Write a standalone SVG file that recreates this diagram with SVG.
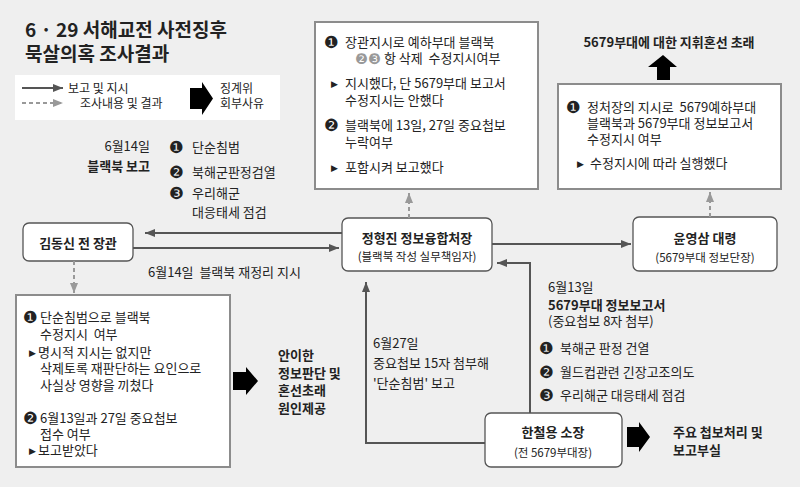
<svg xmlns="http://www.w3.org/2000/svg" width="800" height="487" viewBox="0 0 800 487">
<style>
text{font-family:"Noto Sans CJK KR","Noto Sans",sans-serif;fill:#222;font-size:13px;white-space:pre}
.b{font-weight:bold}
.t{font-size:19px;font-weight:bold}
.s{font-size:11.5px}
.lg{font-size:12px}
.num{font-family:"DejaVu Sans","Noto Sans CJK KR",sans-serif;font-size:16.5px}
.gnum{font-family:"DejaVu Sans","Noto Sans CJK KR",sans-serif;font-size:14.5px;fill:#999}
.tri{font-family:"DejaVu Sans",sans-serif;font-size:9px}
.node{fill:#fff;stroke:#555;stroke-width:1.3}
.panel{fill:#fff;stroke:#8c8c8c;stroke-width:2}
.con{fill:none;stroke:#555;stroke-width:2}
.dash{fill:none;stroke:#999;stroke-width:2;stroke-dasharray:4 3}
.blk{fill:#000}
</style>
<defs>
<marker id="arr" viewBox="0 0 10 8" refX="10" refY="4" markerWidth="10" markerHeight="8" markerUnits="userSpaceOnUse" orient="auto"><path d="M0,0 L10,4 L0,8 z" fill="#555"/></marker>
<marker id="arrg" viewBox="0 0 10 8" refX="10" refY="4" markerWidth="10" markerHeight="8" markerUnits="userSpaceOnUse" orient="auto"><path d="M0,0 L10,4 L0,8 z" fill="#999"/></marker>
</defs>
<rect x="0" y="0" width="800" height="487" fill="#efefef"/>

<g id="title">
<text class="t" x="25" y="37">6 · 29 서해교전 사전징후</text>
<text class="t" x="25" y="61">묵살의혹 조사결과</text>
</g>

<g id="legend">
<rect x="15" y="75" width="265" height="45" fill="#fff"/>
<line x1="22" y1="88" x2="63" y2="88" class="con" marker-end="url(#arr)"/>
<text class="lg" x="68" y="93">보고 및 지시</text>
<line x1="22" y1="103" x2="63" y2="103" class="dash" marker-end="url(#arrg)"/>
<text class="lg" x="80" y="108">조사내용 및 결과</text>
<polygon class="blk" points="190,88 202,88 202,82 213,98.5 202,115 202,109 190,109"/>
<text class="lg" x="220" y="93">징계위</text>
<text class="lg" x="220" y="108">회부사유</text>
</g>

<g id="report-label">
<text x="150" y="151" text-anchor="end">6월14일</text>
<text class="b" x="150" y="171" text-anchor="end">블랙북 보고</text>
<text class="num" x="169" y="153">❶</text>
<text x="192" y="152">단순침범</text>
<text class="num" x="169" y="178">❷</text>
<text x="192" y="177">북해군판정검열</text>
<text class="num" x="169" y="199">❸</text>
<text x="192" y="198">우리해군</text>
<text x="192" y="217">대응태세 점검</text>
</g>

<g id="panel-top">
<rect class="panel" x="315" y="22" width="223" height="167"/>
<text class="num" x="324" y="48">❶</text>
<text x="345" y="47">장관지시로 예하부대 블랙북</text>
<text class="gnum" x="355" y="64">❷</text>
<text class="gnum" x="368" y="64">❸</text>
<text x="384" y="63">항 삭제  수정지시여부</text>
<text class="tri" x="331" y="87">▶</text>
<text x="345" y="88">지시했다, 단 5679부대 보고서</text>
<text x="345" y="105">수정지시는 안했다</text>
<text class="num" x="324" y="131">❷</text>
<text x="345" y="130">블랙북에 13일, 27일 중요첩보</text>
<text x="345" y="147">누락여부</text>
<text class="tri" x="331" y="171">▶</text>
<text x="345" y="172">포함시켜 보고했다</text>
</g>

<g id="panel-right">
<text class="b" x="669" y="47" text-anchor="middle">5679부대에 대한 지휘혼선 초래</text>
<polygon class="blk" points="663,55 677,67 670,67 670,80 657,80 657,67 648,67"/>
<rect class="panel" x="558" y="84" width="223" height="105"/>
<text class="num" x="566" y="113">❶</text>
<text x="587" y="112">정처장의 지시로  5679예하부대</text>
<text x="587" y="128">블랙북과 5679부대 정보보고서</text>
<text x="587" y="144">수정지시 여부</text>
<text class="tri" x="577" y="167">▶</text>
<text x="590" y="168">수정지시에 따라 실행했다</text>
</g>

<g id="node-kim">
<rect class="node" x="23" y="223" width="110" height="38" rx="6"/>
<text class="b" x="78" y="248" text-anchor="middle" font-size="13.5">김동신 전 장관</text>
</g>

<g id="node-jung">
<rect class="node" x="342" y="218" width="150" height="53" rx="6"/>
<text class="b" x="417" y="243" text-anchor="middle" font-size="13.5">정형진 정보융합처장</text>
<text class="s" x="417" y="261" text-anchor="middle">(블랙북 작성 실무책임자)</text>
</g>

<g id="node-yoon">
<rect class="node" x="633" y="217" width="144" height="54" rx="6"/>
<text class="b" x="705" y="243" text-anchor="middle" font-size="13.5">윤영삼 대령</text>
<text class="s" x="705" y="262" text-anchor="middle">(5679부대 정보단장)</text>
</g>

<g id="node-han">
<rect class="node" x="485" y="413" width="137" height="54" rx="6"/>
<text class="b" x="553" y="437" text-anchor="middle" font-size="13.5">한철용 소장</text>
<text class="s" x="553" y="457" text-anchor="middle">(전 5679부대장)</text>
</g>

<g id="panel-left">
<rect class="panel" x="16" y="295" width="214" height="172"/>
<text class="num" x="23" y="323">❶</text>
<text x="40" y="322">단순침범으로 블랙북</text>
<text x="40" y="339">수정지시  여부</text>
<text class="tri" x="29" y="356">▶</text>
<text x="38" y="357">명시적 지시는 없지만</text>
<text x="40" y="373">삭제토록 재판단하는 요인으로</text>
<text x="40" y="390">사실상 영향을 끼쳤다</text>
<text class="num" x="23" y="424">❷</text>
<text x="40" y="423">6월13일과 27일 중요첩보</text>
<text x="40" y="439">접수 여부</text>
<text class="tri" x="29" y="454">▶</text>
<text x="38" y="455">보고받았다</text>
</g>

<g id="result-left">
<polygon class="blk" points="233,372 246,372 246,367 258,381 246,395 246,390 233,390"/>
<text class="b" x="278" y="360">안이한</text>
<text class="b" x="278" y="378">정보판단 및</text>
<text class="b" x="278" y="395">혼선초래</text>
<text class="b" x="278" y="413">원인제공</text>
</g>

<g id="result-bottom">
<polygon class="blk" points="627,427 639,427 639,422 650,437 639,452 639,447 627,447"/>
<text class="b" x="673" y="437">주요 첩보처리 및</text>
<text class="b" x="673" y="455">보고부실</text>
</g>

<g id="connectors">
<line class="con" x1="342" y1="233" x2="145" y2="233" marker-end="url(#arr)"/>
<line class="con" x1="133" y1="248" x2="339" y2="248" marker-end="url(#arr)"/>
<text x="148" y="277">6월14일  블랙북 재정리 지시</text>
<line class="con" x1="492" y1="244" x2="631" y2="244" marker-end="url(#arr)"/>
<line class="dash" x1="409" y1="218" x2="409" y2="193" marker-end="url(#arrg)"/>
<line class="dash" x1="710" y1="217" x2="710" y2="192" marker-end="url(#arrg)"/>
<line class="dash" x1="74" y1="261" x2="74" y2="293" marker-end="url(#arrg)"/>
<path class="con" d="M485,443 H366 V282" marker-end="url(#arr)"/>
<text x="373" y="348">6월27일</text>
<text x="373" y="368">중요첩보 15자 첨부해</text>
<text x="373" y="388">'단순침범' 보고</text>
<path class="con" d="M530,413 V263 H497" marker-end="url(#arr)"/>
<text x="548" y="292">6월13일</text>
<text class="b" x="548" y="310">5679부대 정보보고서</text>
<text x="548" y="326">(중요첩보 8자 첨부)</text>
<text class="num" x="539" y="354">❶</text>
<text x="560" y="353">북해군 판정 건열</text>
<text class="num" x="539" y="378">❷</text>
<text x="560" y="377">월드컵관련 긴장고조의도</text>
<text class="num" x="539" y="401">❸</text>
<text x="560" y="400">우리해군 대응태세 점검</text>
</g>
</svg>
